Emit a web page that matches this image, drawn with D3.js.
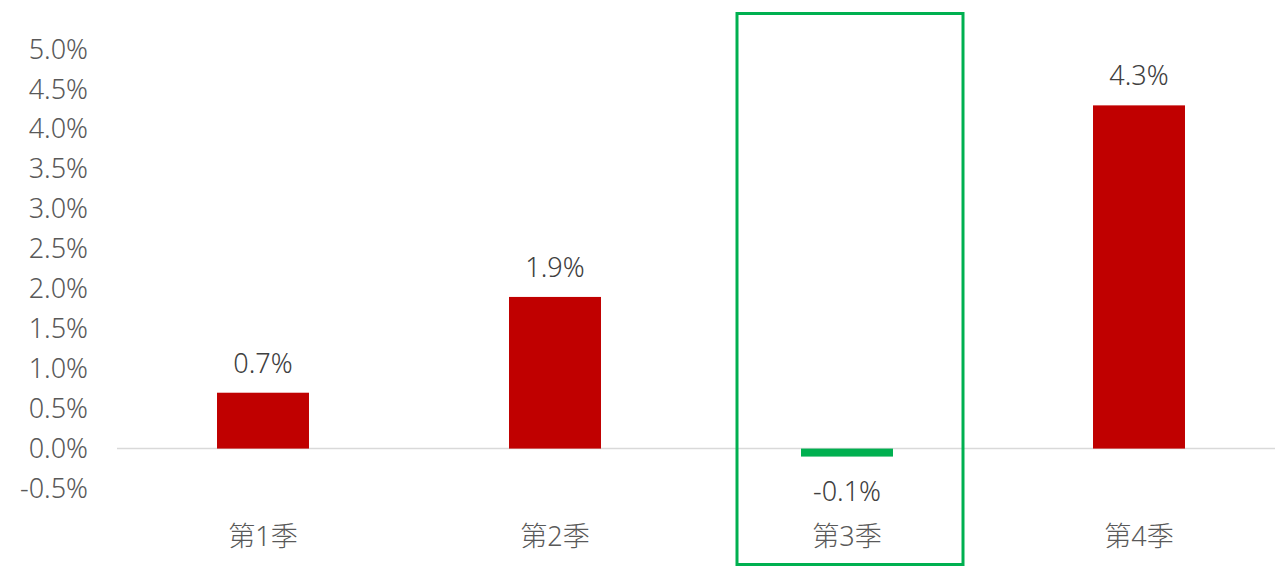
<!DOCTYPE html>
<html lang="zh-Hant">
<head>
  <meta charset="UTF-8">
  <title>quarterly</title>
  <script src="https://d3js.org/d3.v7.min.js"></script>
  <style>
    body {
      margin: 0;
      padding: 0;
      background: #fff;
    }
    #chart {
      width: 1275px;
      height: 581px;
    }
    text {
      font-family: "Noto Sans", "Noto Sans CJK TC", sans-serif;
      font-weight: 300;
    }
  </style>
</head>
<body>
  <div id="chart"></div>
<script>
  // 資料
  const quarters = ['第1季', '第2季', '第3季', '第4季']
  const values = [0.7, 1.9, -0.1, 4.3]
  const yTicks = [-0.5, 0, 0.5, 1, 1.5, 2, 2.5, 3, 3.5, 4, 4.5, 5]
  const highlight = '第3季'

  const width = 1275
  const height = 581

  const svg = d3.select('#chart')
    .append('svg')
    .attr('width', width)
    .attr('height', height)
    .attr('viewBox', `0 0 ${width} ${height}`)

  const x = d3.scaleBand()
    .domain(quarters)
    .range([117, 1285])
    .paddingInner(0.685)
    .paddingOuter(0.3425)

  const y = d3.scaleLinear()
    .domain([-0.5, 5])
    .range([488.5, 49.5])

  // y 軸標籤
  const yAxis = svg.append('g')
    .attr('transform', 'translate(88,0)')
    .call(d3.axisLeft(y).tickValues(yTicks).tickSize(0).tickPadding(0)
      .tickFormat(d => d.toFixed(1) + '%'))
  yAxis.select('.domain').remove()
  yAxis.selectAll('text')
    .attr('fill', '#595959')
    .attr('font-size', 27)
    .attr('text-anchor', 'end')

  // 零線
  svg.append('line')
    .attr('x1', 117)
    .attr('x2', width)
    .attr('y1', y(0))
    .attr('y2', y(0))
    .attr('stroke', '#d9d9d9')
    .attr('stroke-width', 1.5)

  // 長條
  svg.append('g')
    .selectAll('rect')
    .data(values)
    .join('rect')
    .attr('x', (d, i) => x(quarters[i]))
    .attr('width', x.bandwidth())
    .attr('y', d => y(Math.max(0, d)))
    .attr('height', d => Math.abs(y(d) - y(0)))
    .attr('fill', d => d < 0 ? '#00b050' : '#c00000')

  // 數值標籤
  svg.append('g')
    .selectAll('text')
    .data(values)
    .join('text')
    .attr('x', (d, i) => x(quarters[i]) + x.bandwidth() / 2)
    .attr('y', d => d < 0 ? y(d) + 44.5 : y(d) - 20)
    .attr('text-anchor', 'middle')
    .attr('fill', '#404040')
    .attr('font-size', 27)
    .text(d => d.toFixed(1) + '%')

  // 類別標籤
  svg.append('g')
    .selectAll('text')
    .data(quarters)
    .join('text')
    .attr('x', d => x(d) + x.bandwidth() / 2)
    .attr('y', 546)
    .attr('text-anchor', 'middle')
    .attr('fill', '#595959')
    .attr('font-size', 27)
    .text(d => d)

  // 第3季 外框
  const cx = x(highlight) + x.bandwidth() / 2
  svg.append('rect')
    .attr('x', cx - 110)
    .attr('y', 13.5)
    .attr('width', 226)
    .attr('height', 551)
    .attr('fill', 'none')
    .attr('stroke', '#00b050')
    .attr('stroke-width', 3)
</script>
</body>
</html>
